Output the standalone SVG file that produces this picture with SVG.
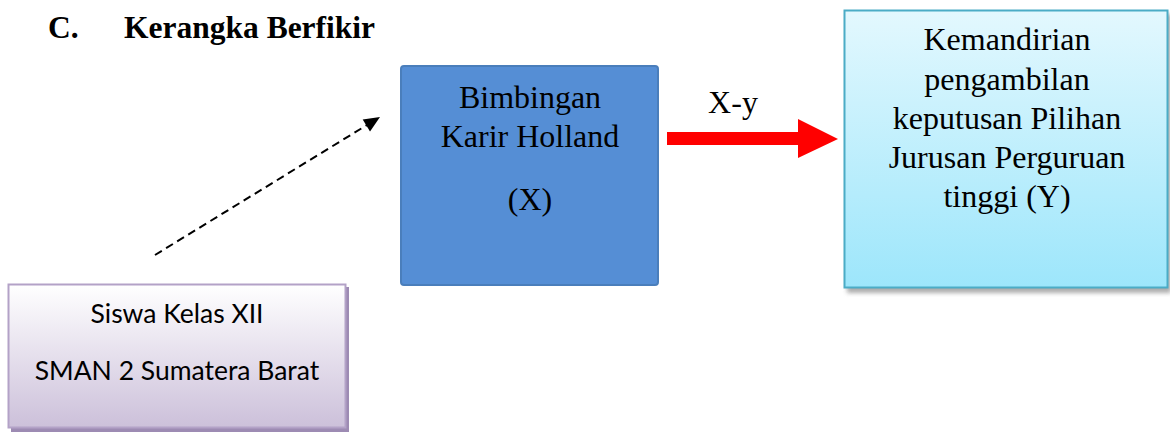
<svg xmlns="http://www.w3.org/2000/svg" width="1170" height="432" viewBox="0 0 1170 432">
<style>
.t{font-family:"Liberation Serif","Times New Roman",serif;font-size:32px;fill:#000;text-anchor:middle}
.s{font-family:Lato,"Open Sans","Liberation Sans",sans-serif;font-size:26.5px;fill:#000;text-anchor:middle}
.h{font-family:"Liberation Serif","Times New Roman",serif;font-size:31.5px;font-weight:bold;fill:#000}
</style>
<defs>
<linearGradient id="gp" x1="0" y1="0" x2="0" y2="1"><stop offset="0" stop-color="#ffffff"/><stop offset="1" stop-color="#ccc0da"/></linearGradient>
<linearGradient id="gc" x1="0" y1="0" x2="0" y2="1"><stop offset="0" stop-color="#e3f8fe"/><stop offset="1" stop-color="#9de6fb"/></linearGradient>
<filter id="sh" x="-10%" y="-10%" width="120%" height="120%"><feGaussianBlur stdDeviation="2"/></filter>
</defs>
<text class="h" x="48" y="38">C.</text>
<text class="h" x="124" y="38">Kerangka Berfikir</text>
<g id="siswa">
<rect x="11" y="287" width="338" height="145" fill="#9d8bb3"/>
<rect x="8.5" y="284.5" width="337" height="143" fill="url(#gp)" stroke="#b3a2c7" stroke-width="2"/>
<text class="s" x="177" y="323">Siswa Kelas XII</text>
<text class="s" x="177" y="380">SMAN 2 Sumatera Barat</text>
</g>
<g id="bimbingan">
<rect x="401" y="66" width="257" height="219" rx="3" fill="#558ed5" stroke="#4a7ebb" stroke-width="2"/>
<text class="t" x="530" y="108">Bimbingan</text>
<text class="t" x="530" y="147">Karir Holland</text>
<text class="t" x="530" y="210">(X)</text>
</g>
<g id="kemandirian">
<rect x="847" y="14" width="324" height="279" fill="#777" opacity="0.6" filter="url(#sh)"/>
<rect x="844.5" y="10.5" width="323" height="277" fill="url(#gc)" stroke="#4bacc6" stroke-width="2"/>
<text class="t" x="1007" y="50">Kemandirian</text>
<text class="t" x="1007" y="90">pengambilan</text>
<text class="t" x="1007" y="129">keputusan Pilihan</text>
<text class="t" x="1007" y="168">Jurusan Perguruan</text>
<text class="t" x="1007" y="207">tinggi (Y)</text>
</g>
<g id="connectors">
<line x1="155" y1="255" x2="367" y2="125" stroke="#000" stroke-width="2" stroke-dasharray="8,5"/>
<polygon points="380,117 362.7,119.4 370,131.4" fill="#000"/>
<polygon points="667,132 798,132 798,119 838,139 798,158 798,145 667,145" fill="#ff0000"/>
<text class="t" x="733" y="113">X-y</text>
</g>
</svg>
